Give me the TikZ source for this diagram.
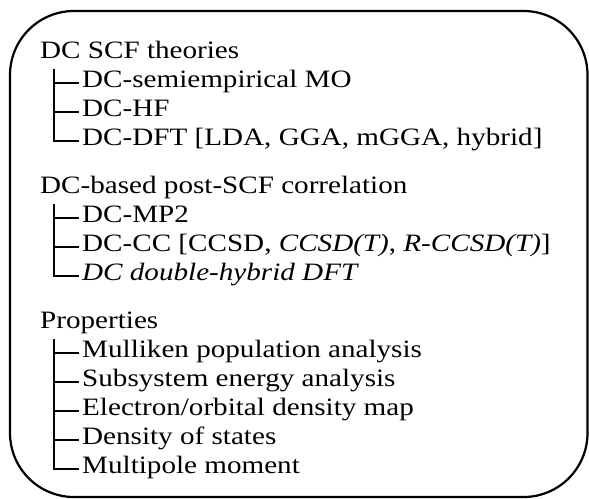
\documentclass[tikz,border=0pt]{standalone}
\usepackage{fontspec}
\setmainfont{Liberation Serif}[FakeStretch=1.165]
\begin{document}
\begin{tikzpicture}[x=1pt,y=-1pt,
  txt/.style={anchor=base west,inner sep=0pt,font=\fontsize{25}{30}\selectfont},
  branch/.style={line width=1.6pt},
  frame/.style={line width=2.2pt,rounded corners=64pt}]
\useasboundingbox (0,0) rectangle (589,498);
\draw[frame] (10,11) rectangle (587.5,497);
% group 1
\node[txt] (h1) at (40,58) {DC SCF theories};
\node[txt] (a1) at (82,87) {DC-semiempirical MO};
\node[txt] (a2) at (82,116) {DC-HF};
\node[txt] (a3) at (82,145) {DC-DFT [LDA, GGA, mGGA, hybrid]};
% group 2
\node[txt] (h2) at (40,193) {DC-based post-SCF correlation};
\node[txt] (b1) at (82,222) {DC-MP2};
\node[txt] (b2) at (82,251) {DC-CC [CCSD, \textit{CCSD(T)}, \textit{R-CCSD(T)}]};
\node[txt] (b3) at (82,280) {\textit{DC double-hybrid DFT}};
% group 3
\node[txt] (h3) at (40,328) {Properties};
\node[txt] (c1) at (82,357) {Mulliken population analysis};
\node[txt] (c2) at (82,386) {Subsystem energy analysis};
\node[txt] (c3) at (82,415) {Electron/orbital density map};
\node[txt] (c4) at (82,444) {Density of states};
\node[txt] (c5) at (82,473) {Multipole moment};
% trees
\coordinate (t1) at (54,69);
\coordinate (t2) at (54,204);
\coordinate (t3) at (54,339);
\draw[branch] (t1) |- ([xshift=-3pt,yshift=4pt]a3.base west);
\foreach \n in {a1,a2}
  \draw[branch] ([yshift=4pt]t1 |- \n.base west) -- ([xshift=-3pt,yshift=4pt]\n.base west);
\draw[branch] (t2) |- ([xshift=-3pt,yshift=4pt]b3.base west);
\foreach \n in {b1,b2}
  \draw[branch] ([yshift=4pt]t2 |- \n.base west) -- ([xshift=-3pt,yshift=4pt]\n.base west);
\draw[branch] (t3) |- ([xshift=-3pt,yshift=4pt]c5.base west);
\foreach \n in {c1,c2,c3,c4}
  \draw[branch] ([yshift=4pt]t3 |- \n.base west) -- ([xshift=-3pt,yshift=4pt]\n.base west);
\end{tikzpicture}
\end{document}
